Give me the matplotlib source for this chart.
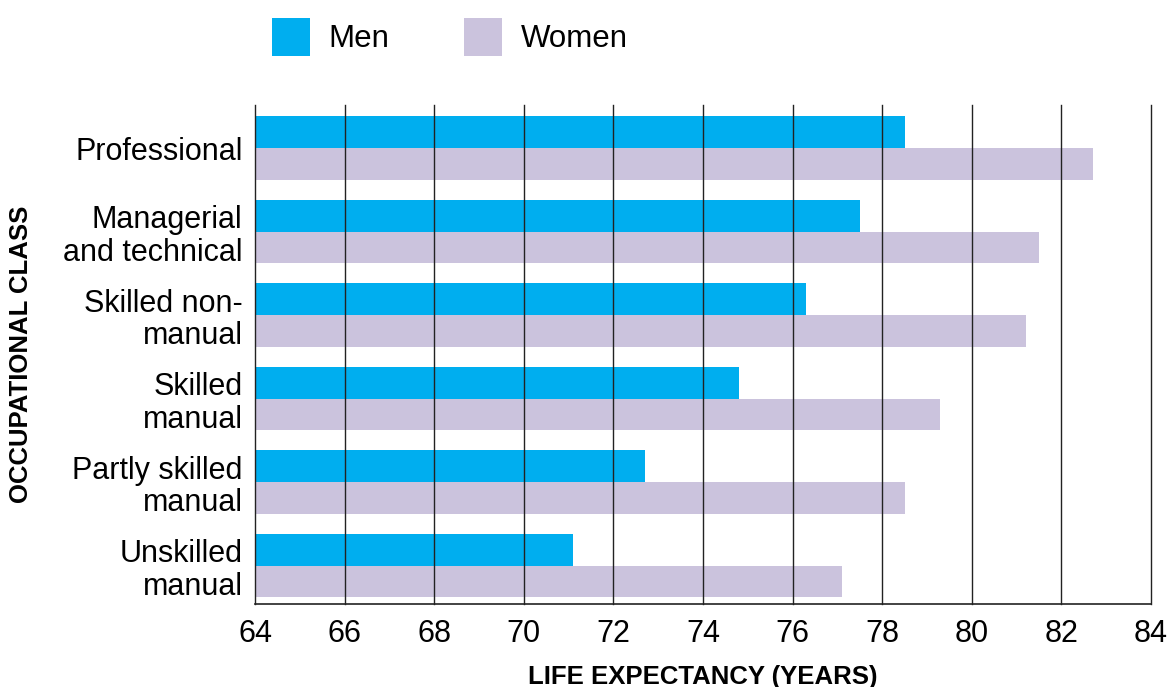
import matplotlib
matplotlib.use("Agg")
import matplotlib.pyplot as plt
import numpy as np

categories = ["Professional", "Managerial\nand technical", "Skilled non-\nmanual",
              "Skilled\nmanual", "Partly skilled\nmanual", "Unskilled\nmanual"]
men = [78.5, 77.5, 76.3, 74.8, 72.7, 71.1]
women = [82.7, 81.5, 81.2, 79.3, 78.5, 77.1]
xticks = [64, 66, 68, 70, 72, 74, 76, 78, 80, 82, 84]

plt.rcParams['font.family'] = ['Liberation Sans', 'DejaVu Sans']

W, H = 1169, 687
fig = plt.figure(figsize=(W/100, H/100), dpi=100)
ax = fig.add_axes([255/W, 1-604/H, (1151-255)/W, (604-105)/H])

y = np.arange(len(categories))
bh = 0.38
base = 64
b1 = ax.barh(y - bh/2, np.array(men) - base, left=base, height=bh, color="#00AEEF", label="Men", zorder=1)
b2 = ax.barh(y + bh/2, np.array(women) - base, left=base, height=bh, color="#CBC3DD", label="Women", zorder=1)

ax.set_xlim(64, 84)
ax.set_ylim(5.46, -0.515)
ax.set_xticks(xticks)
ax.set_xticklabels([str(v) for v in xticks], fontsize=22)
ax.set_yticks(y)
ax.set_yticklabels(categories, fontsize=22, linespacing=1.12)
ax.tick_params(axis='y', length=0, pad=9)
ax.tick_params(axis='x', length=0, pad=11)

for v in xticks[1:]:
    ax.axvline(v, color="#222222", lw=1.0, zorder=3, clip_on=False)

for s in ["top", "right"]:
    ax.spines[s].set_visible(False)
ax.spines["left"].set_color("#222222")
ax.spines["bottom"].set_color("#222222")
ax.spines["left"].set_linewidth(1.0)
ax.spines["bottom"].set_linewidth(1.2)

lab_font = dict(fontsize=18.5, fontweight="bold")
ax.set_xlabel("LIFE EXPECTANCY (YEARS)", labelpad=11, **lab_font)
ax.set_ylabel("OCCUPATIONAL CLASS", **lab_font)
ax.yaxis.set_label_coords(-222/(1151-255), 0.5)

leg = fig.legend(handles=[b1, b2], labels=["Men", "Women"], loc="upper left",
                 bbox_to_anchor=(272/W, 1-18/H), ncol=2, frameon=False, fontsize=22.5,
                 handlelength=1.2, handleheight=1.49, handletextpad=0.6,
                 columnspacing=2.4, borderpad=0, borderaxespad=0)

fig.savefig("out.png", dpi=100)
